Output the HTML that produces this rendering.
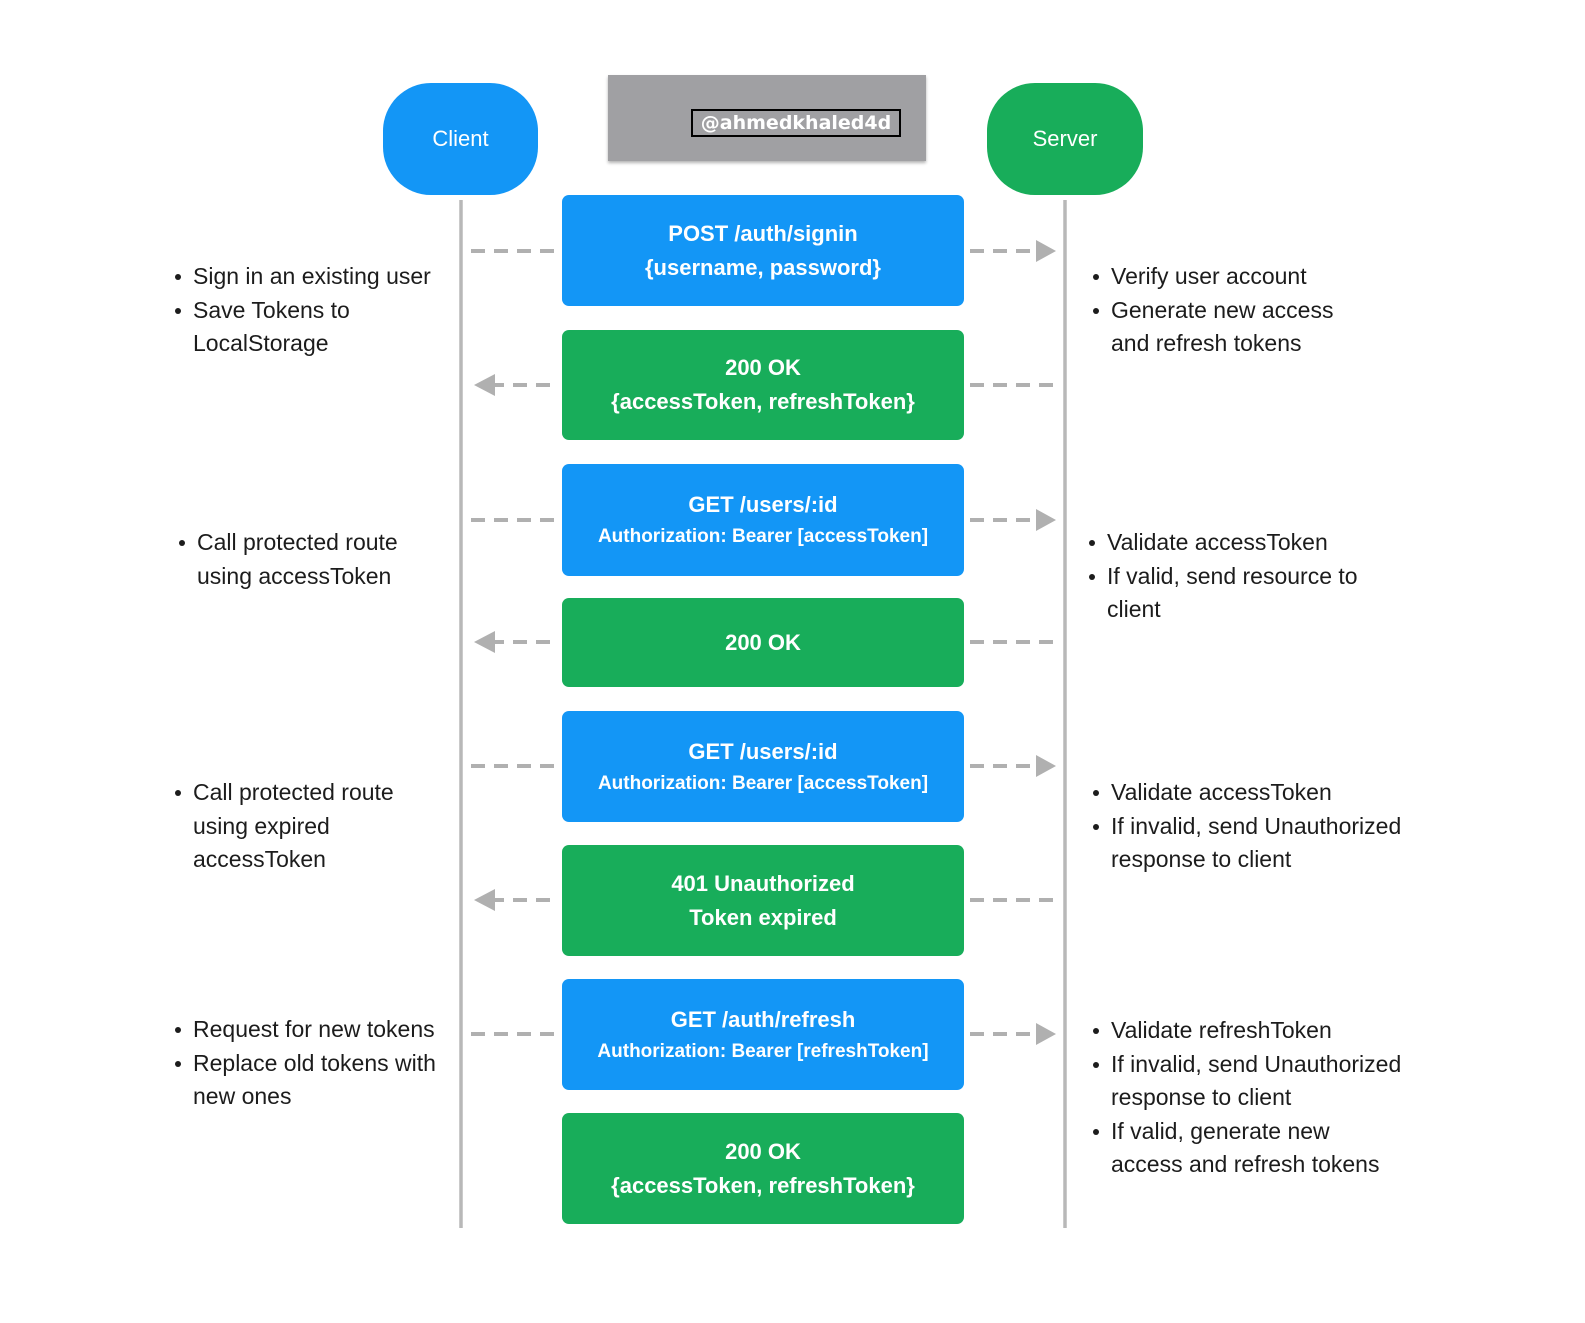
<!DOCTYPE html>
<html><head><meta charset="utf-8"><style>
body{margin:0;width:1585px;height:1323px;background:#fff;position:relative;overflow:hidden;font-family:"Liberation Sans",sans-serif}
.a{position:absolute}
.box{position:absolute;left:562px;width:402px;border-radius:7px;color:#fff;font-weight:bold;display:flex;flex-direction:column;justify-content:center;align-items:center;text-align:center}
.b{background:#1396f6}.g{background:#18ad5a}
.m{font-size:22px;line-height:34px}.s{font-size:19px;line-height:30px}
.t{position:absolute;font-size:23px;color:#1c1c1c;line-height:33.5px;white-space:nowrap}
.t div{position:relative}
.t div.bl::before{content:"";position:absolute;left:-18px;top:14px;width:6px;height:6px;border-radius:50%;background:#1c1c1c}
</style></head><body>
<div class="a" style="left:383px;top:83px;width:155px;height:112px;background:#1396f6;border-radius:48px;color:#fff;font-size:22px;display:flex;align-items:center;justify-content:center">Client</div>
<div class="a" style="left:987px;top:83px;width:156px;height:112px;background:#18ad5a;border-radius:48px;color:#fff;font-size:22px;display:flex;align-items:center;justify-content:center">Server</div>
<div class="a" style="left:608px;top:75px;width:318px;height:86px;background:#a0a0a3;box-shadow:0 2px 3px rgba(0,0,0,.3)"></div>
<div class="a" style="left:691px;top:109px;width:206px;height:24px;border:2px solid #000;color:#fff;font-family:'DejaVu Sans',sans-serif;font-weight:bold;font-size:19px;line-height:24px;text-align:center;background:#a0a0a3">@ahmedkhaled4d</div>
<svg class="a" style="left:0;top:0" width="1585" height="1323">
<g stroke="#b8b8b8" stroke-width="3.5"><line x1="461" y1="200" x2="461" y2="1228"/><line x1="1065" y1="200" x2="1065" y2="1228"/></g>
<g stroke="#b0b0b0" stroke-width="4" stroke-dasharray="14,9" fill="none">
<line x1="471" y1="251" x2="558" y2="251"/><line x1="970" y1="251" x2="1040" y2="251"/>
<line x1="490" y1="385" x2="558" y2="385"/><line x1="970" y1="385" x2="1057" y2="385"/>
<line x1="471" y1="520" x2="558" y2="520"/><line x1="970" y1="520" x2="1040" y2="520"/>
<line x1="490" y1="642" x2="558" y2="642"/><line x1="970" y1="642" x2="1057" y2="642"/>
<line x1="471" y1="766" x2="558" y2="766"/><line x1="970" y1="766" x2="1040" y2="766"/>
<line x1="490" y1="900" x2="558" y2="900"/><line x1="970" y1="900" x2="1057" y2="900"/>
<line x1="471" y1="1034" x2="558" y2="1034"/><line x1="970" y1="1034" x2="1040" y2="1034"/>
</g>
<g fill="#b0b0b0">
<polygon points="1036,240 1056,251 1036,262"/><polygon points="1036,509 1056,520 1036,531"/><polygon points="1036,755 1056,766 1036,777"/><polygon points="1036,1023 1056,1034 1036,1045"/>
<polygon points="495,374 474,385 495,396"/><polygon points="495,631 474,642 495,653"/><polygon points="495,889 474,900 495,911"/>
</g></svg>
<div class="box b" style="top:195px;height:111px"><div class="m">POST /auth/signin</div><div class="m">{username, password}</div></div>
<div class="box g" style="top:330px;height:110px"><div class="m">200 OK</div><div class="m">{accessToken, refreshToken}</div></div>
<div class="box b" style="top:464px;height:112px"><div class="m">GET /users/:id</div><div class="s">Authorization: Bearer [accessToken]</div></div>
<div class="box g" style="top:598px;height:89px"><div class="m">200 OK</div></div>
<div class="box b" style="top:711px;height:111px"><div class="m">GET /users/:id</div><div class="s">Authorization: Bearer [accessToken]</div></div>
<div class="box g" style="top:845px;height:111px"><div class="m">401 Unauthorized</div><div class="m">Token expired</div></div>
<div class="box b" style="top:979px;height:111px"><div class="m">GET /auth/refresh</div><div class="s">Authorization: Bearer [refreshToken]</div></div>
<div class="box g" style="top:1113px;height:111px"><div class="m">200 OK</div><div class="m">{accessToken, refreshToken}</div></div>

<div class="t" style="left:193px;top:260px"><div class="bl">Sign in an existing user</div><div class="bl">Save Tokens to</div><div>LocalStorage</div></div>
<div class="t" style="left:197px;top:526px"><div class="bl">Call protected route</div><div>using accessToken</div></div>
<div class="t" style="left:193px;top:776px"><div class="bl">Call protected route</div><div>using expired</div><div>accessToken</div></div>
<div class="t" style="left:193px;top:1013px"><div class="bl">Request for new tokens</div><div class="bl">Replace old tokens with</div><div>new ones</div></div>

<div class="t" style="left:1111px;top:260px"><div class="bl">Verify user account</div><div class="bl">Generate new access</div><div>and refresh tokens</div></div>
<div class="t" style="left:1107px;top:526px"><div class="bl">Validate accessToken</div><div class="bl">If valid, send resource to</div><div>client</div></div>
<div class="t" style="left:1111px;top:776px"><div class="bl">Validate accessToken</div><div class="bl">If invalid, send Unauthorized</div><div>response to client</div></div>
<div class="t" style="left:1111px;top:1014px"><div class="bl">Validate refreshToken</div><div class="bl">If invalid, send Unauthorized</div><div>response to client</div><div class="bl">If valid, generate new</div><div>access and refresh tokens</div></div>
</body></html>
